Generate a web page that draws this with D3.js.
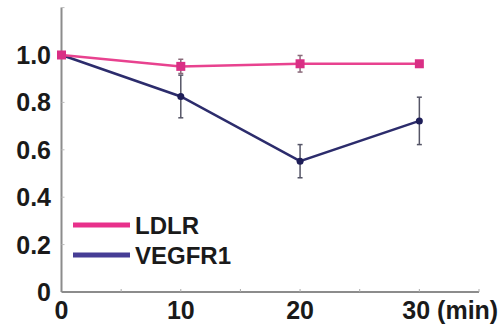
<!DOCTYPE html>
<html><head><meta charset="utf-8">
<script src="https://cdn.jsdelivr.net/npm/d3@7"></script>
<style>html,body{margin:0;padding:0;background:#fff;}svg{display:block;}</style>
</head><body>
<svg id="c" width="503" height="331"></svg>
<script>
const times = [0, 10, 20, 30];
const ldlr = [1.0, 0.952, 0.963, 0.963];
const ldlrErr = [0.0, 0.03, 0.035, 0.0];
const vegfr1 = [1.0, 0.825, 0.552, 0.722];
const vegfr1Err = [0.0, 0.09, 0.07, 0.10];
const yTicks = [0, 0.2, 0.4, 0.6, 0.8, 1.0];
const yTickLabels = ["0", "0.2", "0.4", "0.6", "0.8", "1.0"];
const xTicks = [0, 10, 20, 30];
const xTickLabels = ["0", "10", "20", "30 (min)"];
const seriesNames = ["LDLR", "VEGFR1"];

const svg = d3.select("#c");
const x = d3.scaleLinear().domain([0, 35]).range([61.5, 479]);
const y = d3.scaleLinear().domain([0, 1.2]).range([292, 7.6]);
const font = "Liberation Sans, Arial, sans-serif";

// axes
svg.append("line").attr("x1", x(0)).attr("x2", x(0)).attr("y1", y(1.2)).attr("y2", y(0))
  .attr("stroke", "#8c8c8c").attr("stroke-width", 2);
svg.append("line").attr("x1", x(0)).attr("x2", x(35)).attr("y1", y(0)).attr("y2", y(0))
  .attr("stroke", "#8c8c8c").attr("stroke-width", 2);
// minor ticks
d3.range(0, 36, 5).forEach(t => {
  if (t === 0) return;
  svg.append("line").attr("x1", x(t)).attr("x2", x(t)).attr("y1", y(0)).attr("y2", y(0) - 3)
    .attr("stroke", "#aaa").attr("stroke-width", 1);
});
d3.range(1, 7).forEach(i => {
  const v = i * 0.2;
  svg.append("line").attr("x1", x(0)).attr("x2", x(0) + 3).attr("y1", y(v)).attr("y2", y(v))
    .attr("stroke", "#bbb").attr("stroke-width", 1);
});

// tick labels
svg.selectAll("text.yl").data(yTicks).enter().append("text")
  .attr("x", 51).attr("y", d => y(d) + 9).attr("text-anchor", "end")
  .attr("font-family", font).attr("font-weight", "bold").attr("font-size", 25).attr("fill", "#1a1a1a")
  .text((d, i) => yTickLabels[i]);
svg.selectAll("text.xl").data(xTicks).enter().append("text")
  .attr("x", d => d === 30 ? x(d) - 17 : x(d)).attr("y", 319).attr("text-anchor", d => d === 30 ? "start" : "middle")
  .attr("font-family", font).attr("font-weight", "bold").attr("font-size", 25).attr("fill", "#1a1a1a")
  .text((d, i) => xTickLabels[i]);

function drawSeries(vals, errs, lineColor, errColor, markerColor, shape) {
  const line = d3.line().x((d, i) => x(times[i])).y(d => y(d));
  vals.forEach((v, i) => {
    if (!errs[i]) return;
    const cx = x(times[i]);
    svg.append("line").attr("x1", cx).attr("x2", cx).attr("y1", y(v + errs[i])).attr("y2", y(v - errs[i]))
      .attr("stroke", errColor).attr("stroke-width", 1.5);
    [v + errs[i], v - errs[i]].forEach(e => {
      svg.append("line").attr("x1", cx - 2.5).attr("x2", cx + 2.5).attr("y1", y(e)).attr("y2", y(e))
        .attr("stroke", errColor).attr("stroke-width", 1.5);
    });
  });
  svg.append("path").datum(vals).attr("d", line).attr("fill", "none")
    .attr("stroke", lineColor).attr("stroke-width", 2.5);
  vals.forEach((v, i) => {
    const cx = x(times[i]), cy = y(v);
    if (shape === "square") {
      svg.append("rect").attr("x", cx - 4.5).attr("y", cy - 4.5).attr("width", 9).attr("height", 9)
        .attr("fill", markerColor);
    } else {
      svg.append("circle").attr("cx", cx).attr("cy", cy).attr("r", 3.5).attr("fill", markerColor);
    }
  });
}
drawSeries(vegfr1, vegfr1Err, "#2c2c6c", "#555566", "#1e1e58", "circle");
drawSeries(ldlr, ldlrErr, "#e8428f", "#8a6a7a", "#d92f85", "square");

// legend
const legColors = ["#e8308b", "#463d95"];
const legY = [225, 255];
seriesNames.forEach((n, i) => {
  svg.append("line").attr("x1", 73).attr("x2", 130).attr("y1", legY[i]).attr("y2", legY[i])
    .attr("stroke", legColors[i]).attr("stroke-width", 5);
  svg.append("text").attr("x", 135).attr("y", legY[i] + 9)
    .attr("font-family", font).attr("font-weight", "bold").attr("font-size", 24).attr("fill", "#1a1a1a")
    .text(n);
});
</script>
</body></html>
